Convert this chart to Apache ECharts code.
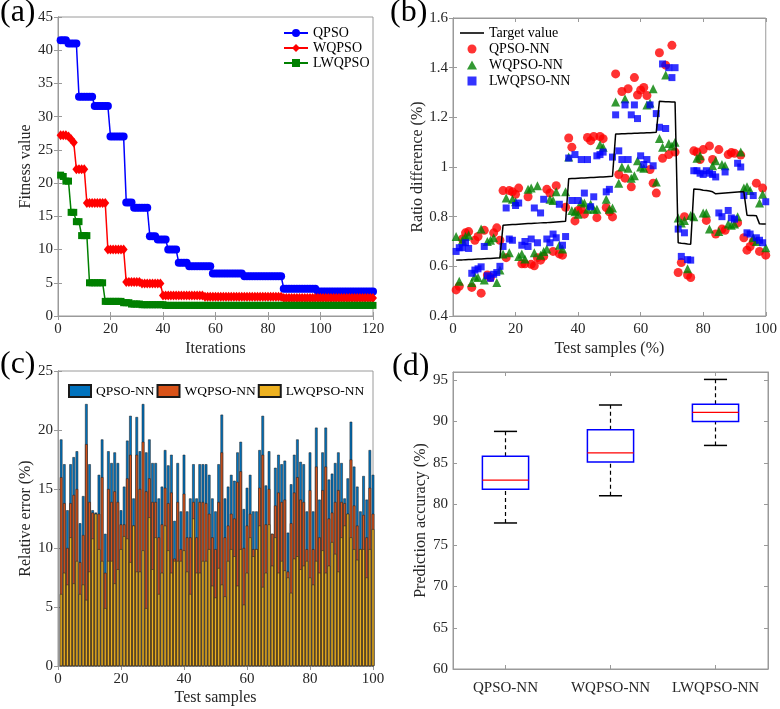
<!DOCTYPE html>
<html>
<head>
<meta charset="utf-8">
<script src="https://cdn.jsdelivr.net/npm/echarts@6/dist/echarts.min.js"></script>
<style>
  html, body { margin: 0; padding: 0; background: #fff; }
  #chart { width: 780px; height: 709px; }
</style>
</head>
<body>
<div id="chart"></div>
<script>
// (a) fitness value per iteration
const iterations = Array.from({ length: 120 }, (_, i) => i + 1);
const qpsoFit = [
  41.5, 41.5, 41.5, 41, 41, 41, 41, 33, 33, 33,
  33, 33, 33, 31.6, 31.6, 31.6, 31.6, 31.6, 31.6, 27,
  27, 27, 27, 27, 27, 17.1, 17.1, 17.1, 16.3, 16.3,
  16.3, 16.3, 16.3, 16.3, 12, 12, 12, 11.5, 11.5, 11.5,
  11.5, 10, 10, 10, 10, 8, 8, 8, 8, 7.5,
  7.5, 7.5, 7.5, 7.5, 7.5, 7.5, 7.5, 7.5, 6.4, 6.4,
  6.4, 6.4, 6.4, 6.4, 6.4, 6.4, 6.4, 6.4, 6.4, 6.4,
  6, 6, 6, 6, 6, 6, 6, 6, 6, 6,
  6, 6, 6, 6, 6, 4.1, 4.1, 4.1, 4.1, 4.1,
  4.1, 4.1, 4.1, 4.1, 4.1, 4.1, 4.1, 4.1, 3.7, 3.7,
  3.7, 3.7, 3.7, 3.7, 3.7, 3.7, 3.7, 3.7, 3.7, 3.7,
  3.7, 3.7, 3.7, 3.7, 3.7, 3.7, 3.7, 3.7, 3.7, 3.7
];
const wqpsoFit = [
  27.2, 27.2, 27.2, 27, 26.6, 26.1, 22.1, 22.1, 22.1, 22.1,
  17, 17, 17, 17, 17, 17, 17, 17, 10, 10,
  10, 10, 10, 10, 10, 5.1, 5.1, 5.1, 5.1, 5.1,
  5.1, 4.9, 4.9, 4.9, 4.9, 4.9, 4.9, 4.9, 4.9, 3.1,
  3.1, 3.1, 3.1, 3.1, 3.1, 3.1, 3.1, 3.1, 3.1, 3.1,
  3.1, 3.1, 3.1, 3.1, 3.1, 2.9, 2.9, 2.9, 2.9, 2.9,
  2.9, 2.9, 2.9, 2.9, 2.9, 2.9, 2.9, 2.9, 2.9, 2.9,
  2.9, 2.9, 2.9, 2.9, 2.9, 2.9, 2.9, 2.9, 2.9, 2.9,
  2.9, 2.9, 2.9, 2.9, 2.9, 2.7, 2.7, 2.7, 2.7, 2.7,
  2.7, 2.7, 2.7, 2.7, 2.7, 2.7, 2.7, 2.7, 2.7, 2.7,
  2.7, 2.7, 2.7, 2.7, 2.7, 2.7, 2.7, 2.7, 2.7, 2.7,
  2.7, 2.7, 2.7, 2.7, 2.7, 2.7, 2.7, 2.7, 2.7, 2.7
];
const lwqpsoFit = [
  21.2, 21, 20.3, 20.3, 15.6, 15.6, 14.2, 14.2, 12.1, 12.1,
  12.1, 5, 5, 5, 5, 5, 5, 2.2, 2.2, 2.2,
  2.2, 2.2, 2.2, 2.2, 2, 2, 2, 1.8, 1.8, 1.8,
  1.8, 1.7, 1.7, 1.7, 1.7, 1.7, 1.7, 1.7, 1.7, 1.7,
  1.6, 1.6, 1.6, 1.6, 1.6, 1.6, 1.6, 1.6, 1.6, 1.6,
  1.6, 1.6, 1.6, 1.6, 1.6, 1.6, 1.6, 1.6, 1.6, 1.6,
  1.6, 1.6, 1.6, 1.6, 1.6, 1.6, 1.6, 1.6, 1.6, 1.6,
  1.6, 1.6, 1.6, 1.6, 1.6, 1.6, 1.6, 1.6, 1.6, 1.6,
  1.6, 1.6, 1.6, 1.6, 1.6, 1.6, 1.6, 1.6, 1.6, 1.6,
  1.6, 1.6, 1.6, 1.6, 1.6, 1.6, 1.6, 1.6, 1.6, 1.6,
  1.6, 1.6, 1.6, 1.6, 1.6, 1.6, 1.6, 1.6, 1.6, 1.6,
  1.6, 1.6, 1.6, 1.6, 1.6, 1.6, 1.6, 1.6, 1.6, 1.6
];

// (b) ratio difference per test sample
const samples = Array.from({ length: 100 }, (_, i) => i + 1);
const targetRatio = [
  0.625, 0.626, 0.626, 0.627, 0.628, 0.628, 0.629, 0.63, 0.63, 0.631, 0.632, 0.632, 0.633, 0.634, 0.635,
  0.765, 0.766, 0.767, 0.768, 0.768, 0.769, 0.77, 0.771, 0.772, 0.772, 0.773, 0.774, 0.775, 0.776, 0.776,
  0.777, 0.778, 0.779, 0.78, 0.781, 0.782,
  0.953, 0.954, 0.954, 0.955, 0.956, 0.956, 0.957, 0.958, 0.958, 0.959, 0.96, 0.96, 0.961, 0.962, 0.963,
  1.133, 1.133, 1.134, 1.134, 1.135, 1.135, 1.136, 1.136, 1.137, 1.137, 1.138, 1.138, 1.139, 1.14,
  1.265, 1.264, 1.263, 1.263, 1.262, 1.262,
  0.695, 0.693, 0.692, 0.69, 0.689,
  0.911, 0.91, 0.909, 0.906, 0.905, 0.903, 0.9, 0.892, 0.893, 0.894, 0.895, 0.896, 0.897, 0.898, 0.899, 0.9, 0.9,
  0.806, 0.805, 0.805, 0.804,
  0.771, 0.77, 0.77
];
const qpsoRatio = [
  0.505, 0.52, 0.71, 0.735, 0.74, 0.515, 0.705, 0.72, 0.492, 0.745, 0.565, 0.555, 0.735, 0.755, 0.705,
  0.905, 0.635, 0.905, 0.9, 0.89, 0.915, 0.61, 0.61, 0.88, 0.608, 0.602, 0.635, 0.625, 0.64, 0.91,
  0.895, 0.66, 0.925, 0.65, 0.645, 0.838,
  1.117, 1.08, 0.783, 0.825, 0.83, 0.81, 1.119, 1.106, 1.123, 0.796, 1.123, 1.114, 0.837, 0.82, 0.799,
  1.375, 0.97, 1.304, 0.955, 1.315, 0.92, 1.36, 1.29, 1.31, 1.32, 1.288, 0.99, 0.935, 0.895,
  1.46, 1.035, 1.41, 1.05, 1.49, 1.06,
  0.575, 0.615, 0.8, 0.565, 0.555,
  1.065, 1.06, 1.03, 1.07, 0.785, 1.085, 1.03, 0.73, 1.07, 0.75, 0.745, 1.05, 1.058, 1.055, 0.775, 1.048, 0.715,
  0.665, 0.68, 0.7, 0.935, 0.66, 0.915, 0.645
];
const wqpsoRatio = [
  0.72, 0.54, 0.705, 0.72, 0.725, 0.535, 0.56, 0.555, 0.75, 0.545, 0.7, 0.705, 0.715, 0.535, 0.585,
  0.65, 0.875, 0.655, 0.87, 0.86, 0.64, 0.65, 0.63, 0.91, 0.915, 0.655, 0.925, 0.645, 0.66, 0.67,
  0.87, 0.865, 0.9, 0.685, 0.67, 0.9,
  1.04, 0.825, 0.82, 0.81, 0.86, 0.855, 0.83, 0.85, 0.83, 0.83, 1.09, 1.08, 0.87, 0.83, 0.835,
  1.262, 0.935, 1.0, 1.275, 0.995, 0.955, 0.965, 1.025, 1.0, 0.995, 1.25, 1.258, 1.315, 0.94,
  1.115, 1.08, 1.37, 1.095, 1.085, 1.1,
  0.795, 0.775, 0.785, 0.59, 0.805,
  0.8, 1.035, 1.045, 0.815, 0.815, 0.75, 1.005, 1.025, 0.74, 1.01, 1.005, 0.77, 0.765, 0.77, 0.8, 1.06, 0.915,
  0.92, 0.905, 0.715, 0.7, 0.855, 0.89, 0.675
];
const lwqpsoRatio = [
  0.66, 0.675, 0.675, 0.695, 0.672, 0.572, 0.585, 0.59, 0.598, 0.68, 0.562, 0.552, 0.568, 0.575, 0.6,
  0.68, 0.835, 0.71, 0.705, 0.845, 0.855, 0.685, 0.7, 0.68, 0.71, 0.835, 0.695, 0.815, 0.87, 0.71,
  0.695, 0.73, 0.715, 0.85, 0.685, 0.72,
  1.036, 0.865, 1.05, 0.865, 1.03, 0.895, 1.03, 0.84, 0.88, 1.045, 1.05, 1.06, 0.9, 0.91, 1.04,
  1.21, 1.065, 1.03, 1.25, 1.03, 1.21, 1.25, 1.195, 1.045, 1.01, 1.03, 1.25, 1.005, 1.215,
  1.16, 1.415, 1.155, 1.4, 1.36, 1.4,
  0.75, 0.64, 0.735, 0.627, 0.625,
  0.985, 0.985, 0.975, 0.97, 0.985, 0.975, 0.97, 0.96, 0.815, 0.8, 0.98, 0.825, 0.795, 0.79, 1.015, 1.0, 0.885,
  0.735, 0.73, 0.885, 0.715, 0.705, 0.695, 0.86
];

// (c) relative error per test sample
const qpsoErr = [
  19.2, 17.1, 13.2, 17.1, 17.7, 18.2, 12.1, 14.4, 22.2, 17.1,
  13.2, 13.0, 16.2, 19.2, 11.2, 18.2, 17.2, 18.1, 17.2, 13.2,
  15.2, 19.1, 21.2, 14.2, 21.1, 18.2, 22.2, 18.1, 19.2, 17.2,
  17.2, 14.2, 15.2, 18.3, 17.0, 17.9, 12.3, 17.2, 13.1, 17.9,
  13.1, 14.2, 17.1, 14.2, 17.1, 17.1, 17.1, 16.2, 14.2, 13.1,
  17.1, 21.3, 14.2, 15.2, 16.2, 15.7, 18.1, 19.0, 13.3, 15.1,
  16.2, 13.1, 13.1, 18.3, 21.2, 15.3, 18.2, 11.2, 16.8, 17.9,
  17.1, 17.4, 11.3, 15.4, 17.9, 19.2, 17.3, 17.1, 13.1, 18.1,
  13.1, 20.2, 14.1, 18.1, 20.2, 15.8, 16.3, 17.2, 18.1, 17.2,
  14.2, 15.9, 20.7, 16.9, 15.2, 13.1, 16.1, 14.1, 18.3, 16.2
];
const wqpsoErr = [
  16.0, 13.8, 10.0, 13.8, 14.5, 15.0, 8.8, 11.1, 18.8, 13.9,
  13.0, 12.9, 12.9, 16.0, 7.9, 15.0, 13.9, 14.8, 13.9, 12.0,
  12.0, 15.9, 17.9, 11.9, 17.9, 15.0, 19.0, 14.8, 15.9, 13.9,
  13.9, 10.9, 12.0, 15.1, 13.8, 14.7, 9.1, 13.9, 9.9, 14.6,
  10.9, 10.9, 13.9, 10.9, 13.9, 13.9, 13.8, 12.9, 10.9, 9.9,
  13.9, 18.1, 10.9, 11.9, 12.9, 12.5, 15.6, 16.5, 10.0, 11.9,
  12.9, 9.9, 9.9, 15.1, 17.9, 12.0, 15.0, 11.2, 13.6, 14.7,
  13.9, 14.1, 8.0, 12.1, 14.7, 16.0, 14.1, 13.9, 9.9, 14.9,
  9.9, 16.9, 10.9, 14.9, 16.9, 12.5, 13.0, 13.9, 14.9, 13.9,
  13.8, 12.9, 17.5, 13.6, 11.9, 9.9, 12.8, 10.9, 15.1, 12.9
];
const lwqpsoErr = [
  6.1, 7.9, 6.9, 10.9, 7.0, 8.9, 6.1, 6.9, 5.6, 8.0,
  10.8, 12.9, 9.9, 8.9, 4.9, 8.9, 8.9, 7.0, 8.2, 9.9,
  11.0, 10.8, 8.8, 11.9, 8.0, 8.0, 9.8, 4.9, 12.6, 8.2,
  10.9, 6.1, 7.9, 11.9, 9.8, 7.9, 8.9, 8.9, 8.9, 9.8,
  8.0, 6.1, 12.5, 7.9, 7.9, 8.9, 8.9, 9.9, 6.8, 5.8,
  8.3, 6.9, 5.9, 8.9, 9.9, 9.3, 6.8, 9.9, 5.2, 7.9,
  10.9, 9.3, 9.9, 11.9, 6.7, 7.9, 12.0, 8.5, 10.9, 7.9,
  8.9, 8.1, 7.5, 6.2, 9.1, 9.3, 8.2, 8.5, 8.9, 7.5,
  6.9, 8.9, 7.9, 9.8, 7.9, 8.5, 10.5, 9.5, 8.0, 10.9,
  11.9, 12.9, 10.9, 9.9, 9.0, 9.9, 9.9, 7.5, 9.9, 11.6
];

// (d) prediction accuracy box plot
const models = ["QPSO-NN", "WQPSO-NN", "LWQPSO-NN"];
const accMin = [77.7, 81, 87.1];
const accQ1 = [81.8, 85.1, 90];
const accMedian = [82.9, 86.2, 91.1];
const accQ3 = [85.8, 89, 92.1];
const accMax = [88.8, 92, 95.1];

const FONT = "Liberation Serif";
const BOX = "#9a9a9a";
const TXT = "#262626";

const pairs = (xs, ys) => xs.map((x, i) => [x, ys[i]]);

// one axis pair per grid side so every plot gets a closed box with inward ticks
function xAxes(grid, opts) {
  const base = {
    gridIndex: grid,
    axisLine: { show: true, lineStyle: { color: BOX, width: 1 } },
    axisTick: { show: true, inside: true, length: 4, lineStyle: { color: BOX } },
    splitLine: { show: false }
  };
  const bottom = Object.assign({}, base, opts, {
    position: "bottom",
    axisLabel: Object.assign({ color: TXT, fontFamily: FONT, fontSize: 15, margin: 6 }, opts.axisLabel || {}),
    nameLocation: "middle",
    nameTextStyle: { color: TXT, fontFamily: FONT, fontSize: 16 }
  });
  const top = Object.assign({}, base, opts, { position: "top", name: "", axisLabel: { show: false } });
  return [bottom, top];
}
function yAxes(grid, opts) {
  const base = {
    gridIndex: grid,
    axisLine: { show: true, lineStyle: { color: BOX, width: 1 } },
    axisTick: { show: true, inside: true, length: 4, lineStyle: { color: BOX } },
    splitLine: { show: false }
  };
  const left = Object.assign({}, base, opts, {
    position: "left",
    axisLabel: Object.assign({ color: TXT, fontFamily: FONT, fontSize: 15, margin: 5 }, opts.axisLabel || {}),
    nameLocation: "middle",
    nameTextStyle: { color: TXT, fontFamily: FONT, fontSize: 16 }
  });
  const right = Object.assign({}, base, opts, { position: "right", name: "", axisLabel: { show: false } });
  return [left, right];
}

function renderBox(params, api) {
  const idx = api.value(0);
  const lo = api.coord([idx, api.value(1)]);
  const q1 = api.coord([idx, api.value(2)]);
  const md = api.coord([idx, api.value(3)]);
  const q3 = api.coord([idx, api.value(4)]);
  const hi = api.coord([idx, api.value(5)]);
  const bw = api.size([1, 0])[0] * 0.44;
  const cw = bw / 2;
  const x = lo[0];
  const dash = { stroke: "#000", lineWidth: 1.2, lineDash: [4, 3] };
  const solid = { stroke: "#000", lineWidth: 1.5 };
  return {
    type: "group",
    children: [
      { type: "line", shape: { x1: x, y1: lo[1], x2: x, y2: q1[1] }, style: dash },
      { type: "line", shape: { x1: x, y1: q3[1], x2: x, y2: hi[1] }, style: dash },
      { type: "line", shape: { x1: x - cw / 2, y1: lo[1], x2: x + cw / 2, y2: lo[1] }, style: solid },
      { type: "line", shape: { x1: x - cw / 2, y1: hi[1], x2: x + cw / 2, y2: hi[1] }, style: solid },
      { type: "rect", shape: { x: x - bw / 2, y: q3[1], width: bw, height: q1[1] - q3[1] },
        style: { fill: "none", stroke: "#0000ff", lineWidth: 1.5 } },
      { type: "line", shape: { x1: x - bw / 2, y1: md[1], x2: x + bw / 2, y2: md[1] },
        style: { stroke: "#ff0000", lineWidth: 1.3 } }
    ]
  };
}

const legendText = { color: "#000", fontFamily: FONT, fontSize: 14 };

const option = {
  animation: false,
  backgroundColor: "#fff",
  grid: [
    { left: 58, top: 17, width: 315, height: 299, show: true, borderColor: BOX, borderWidth: 1 },
    { left: 453, top: 18, width: 316, height: 298, show: true, borderColor: BOX, borderWidth: 1 },
    { left: 58, top: 371, width: 315, height: 295, show: true, borderColor: BOX, borderWidth: 1 },
    { left: 453, top: 372, width: 315, height: 297, show: true, borderColor: BOX, borderWidth: 1 }
  ],
  xAxis: [].concat(
    xAxes(0, { type: "value", min: 0, max: 120, interval: 20, name: "Iterations", nameGap: 25 }),
    xAxes(1, { type: "value", min: 0, max: 100, interval: 20, name: "Test samples (%)", nameGap: 25 }),
    xAxes(2, { type: "value", min: 0, max: 100, interval: 20, name: "Test samples", nameGap: 24 }),
    xAxes(3, { type: "category", data: models, boundaryGap: true,
      axisTick: { show: true, inside: true, alignWithLabel: true, length: 4, lineStyle: { color: BOX } },
      axisLabel: { margin: 12, interval: 0 } })
  ),
  yAxis: [].concat(
    yAxes(0, { type: "value", min: 0, max: 45, interval: 5, name: "Fitness value", nameGap: 24 }),
    yAxes(1, { type: "value", min: 0.4, max: 1.6, interval: 0.2, name: "Ratio difference (%)", nameGap: 27 }),
    yAxes(2, { type: "value", min: 0, max: 25, interval: 5, name: "Relative error (%)", nameGap: 24 }),
    yAxes(3, { type: "value", min: 60, max: 96, interval: 5, name: "Prediction accuracy (%)", nameGap: 23,
      axisLabel: { formatter: v => (v % 5 === 0 ? String(v) : "") } })
  ),
  legend: [
    {
      data: ["QPSO", "WQPSO", "LWQPSO"], orient: "vertical", left: 283, top: 26, padding: 0,
      itemWidth: 24, itemHeight: 10, itemGap: 1, selectedMode: false, textStyle: legendText
    },
    {
      data: [
        { name: "Target value", icon: "path://M0,0 H24 V1.6 H0 Z" },
        { name: "QPSO-NN", icon: "circle" },
        { name: "WQPSO-NN", icon: "path://M5,0 L10,9 L0,9 Z" },
        { name: "LWQPSO-NN", icon: "path://M0,0 H8 V8 H0 Z" }
      ],
      orient: "vertical", left: 460, top: 26, padding: 0,
      itemWidth: 24, itemHeight: 9, itemGap: 2, selectedMode: false, textStyle: legendText
    },
    {
      data: ["QPSO-NN (c)", "WQPSO-NN (c)", "LWQPSO-NN (c)"], orient: "horizontal", left: 68, top: 384, padding: 0,
      itemWidth: 22, itemHeight: 12, itemGap: 2, icon: "rect", selectedMode: false,
      textStyle: { color: "#000", fontFamily: FONT, fontSize: 13.5 },
      formatter: name => name.replace(" (c)", "")
    }
  ],
  graphic: [
    { type: "text", left: 0, top: -3, style: { text: "(a)", font: "32px " + FONT, fill: "#000" } },
    { type: "text", left: 390, top: -3, style: { text: "(b)", font: "32px " + FONT, fill: "#000" } },
    { type: "text", left: 0, top: 349, style: { text: "(c)", font: "32px " + FONT, fill: "#000" } },
    { type: "text", left: 392, top: 351, style: { text: "(d)", font: "32px " + FONT, fill: "#000" } }
  ],
  series: [
    { name: "QPSO", type: "line", xAxisIndex: 0, yAxisIndex: 0, data: pairs(iterations, qpsoFit),
      symbol: "circle", symbolSize: 8, showAllSymbol: true, color: "#0000ff", lineStyle: { width: 1.5 } },
    { name: "WQPSO", type: "line", xAxisIndex: 0, yAxisIndex: 0, data: pairs(iterations, wqpsoFit),
      symbol: "diamond", symbolSize: [8, 10], showAllSymbol: true, color: "#ff0000", lineStyle: { width: 1.5 } },
    { name: "LWQPSO", type: "line", xAxisIndex: 0, yAxisIndex: 0, data: pairs(iterations, lwqpsoFit),
      symbol: "rect", symbolSize: 7, showAllSymbol: true, color: "#008000", lineStyle: { width: 1.5 } },

    { name: "Target value", type: "line", xAxisIndex: 2, yAxisIndex: 2, data: pairs(samples, targetRatio),
      symbol: "none", color: "#000", lineStyle: { width: 1.5 } },
    { name: "QPSO-NN", type: "scatter", xAxisIndex: 2, yAxisIndex: 2, data: pairs(samples, qpsoRatio),
      symbol: "circle", symbolSize: 9, color: "#ff0000" },
    { name: "WQPSO-NN", type: "scatter", xAxisIndex: 2, yAxisIndex: 2, data: pairs(samples, wqpsoRatio),
      symbol: "triangle", symbolSize: 9, color: "#008000" },
    { name: "LWQPSO-NN", type: "scatter", xAxisIndex: 2, yAxisIndex: 2, data: pairs(samples, lwqpsoRatio),
      symbol: "rect", symbolSize: 7, color: "#0000ff" },

    { name: "QPSO-NN (c)", type: "bar", xAxisIndex: 4, yAxisIndex: 4, data: pairs(samples, qpsoErr),
      barWidth: 2.6, barGap: "-100%", color: "#0072bd", itemStyle: { borderColor: "#1a1a1a", borderWidth: 0.5 } },
    { name: "WQPSO-NN (c)", type: "bar", xAxisIndex: 4, yAxisIndex: 4, data: pairs(samples, wqpsoErr),
      barWidth: 2.6, barGap: "-100%", color: "#d95319", itemStyle: { borderColor: "#1a1a1a", borderWidth: 0.5 } },
    { name: "LWQPSO-NN (c)", type: "bar", xAxisIndex: 4, yAxisIndex: 4, data: pairs(samples, lwqpsoErr),
      barWidth: 2.6, barGap: "-100%", color: "#edb120", itemStyle: { borderColor: "#1a1a1a", borderWidth: 0.5 } },

    { name: "accuracy", type: "custom", xAxisIndex: 6, yAxisIndex: 6, renderItem: renderBox,
      encode: { x: 0, y: [1, 2, 3, 4, 5] },
      data: models.map((m, i) => [i, accMin[i], accQ1[i], accMedian[i], accQ3[i], accMax[i]]) }
  ]
};

const chart = echarts.init(document.getElementById("chart"));
chart.setOption(option);
</script>
</body>
</html>
